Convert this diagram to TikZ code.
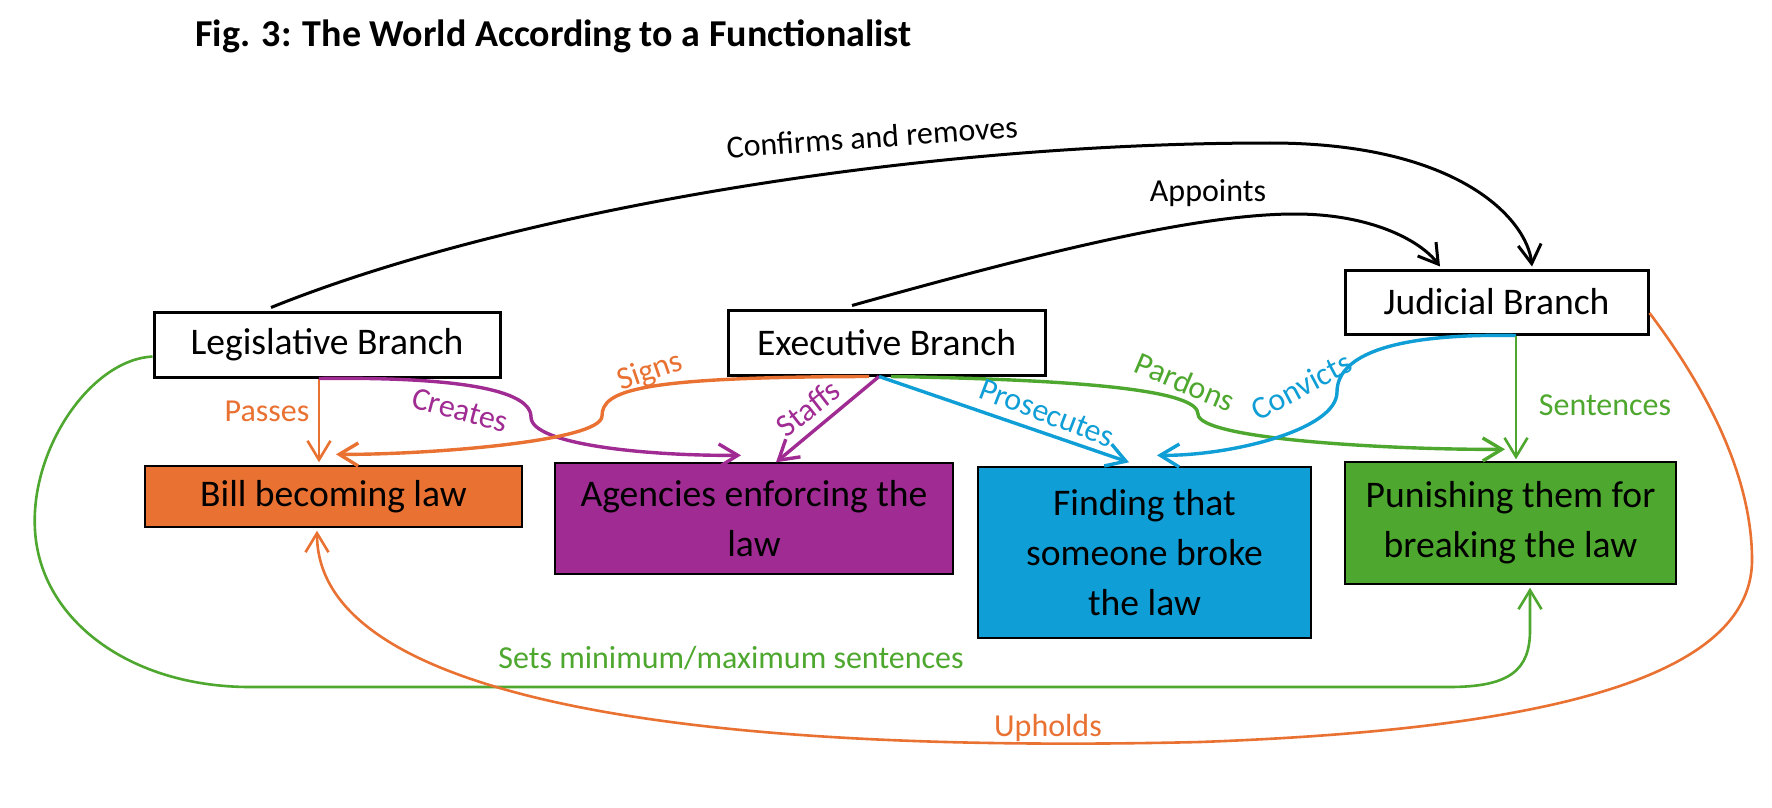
\documentclass[tikz,border=0pt]{standalone}
\usepackage{fontspec}
\setmainfont{Carlito}
\usetikzlibrary{arrows.meta,calc}
\definecolor{corange}{HTML}{E97132}
\definecolor{cpurple}{HTML}{A02B93}
\definecolor{cblue}{HTML}{0F9ED5}
\definecolor{cgreen}{HTML}{4EA72E}
\tikzset{
  branch/.style={draw=black, line width=1.5pt, fill=white, inner sep=0pt, font=\fontsize{18.8}{25}\selectfont},
  funcbox/.style={draw=black, line width=0.7pt, inner sep=0pt, align=center, font=\fontsize{18.8}{25}\selectfont},
  conn/.style={line width=1.7pt, -{Straight Barb[length=9.5pt,width=11.5pt]}},
  thinconn/.style={line width=1.3pt, -{Straight Barb[length=9.5pt,width=11.5pt]}},
  lbl/.style={inner sep=0pt, font=\fontsize{16}{19}\selectfont},
}
\begin{document}
\begin{tikzpicture}[x=0.5pt,y=-0.5pt]
\fill[white] (0,0) rectangle (1772,808);
\useasboundingbox (0,0) rectangle (1772,808);

\node[anchor=base west, inner sep=0pt, font=\bfseries\fontsize{19}{23}\selectfont] (title) at (195,47) {Fig. 3: The World According to a Functionalist};

% branches
\node[branch, minimum width=173pt, minimum height=32.5pt] (leg) at (327,344.5) {Legislative Branch};
\node[branch, minimum width=158.5pt, minimum height=32.5pt] (exe) at (886.5,342.5) {Executive Branch};
\node[branch, minimum width=151.5pt, minimum height=32pt] (jud) at (1496.5,302) {Judicial Branch};

% functions
\node[funcbox, fill=corange, minimum width=188.5pt, minimum height=30.5pt] (bill) at (333.5,496.5) {Bill becoming law};
\node[funcbox, fill=cpurple, minimum width=199pt, minimum height=55.5pt] (agen) at (754,518.5) {Agencies enforcing the\\law};
\node[funcbox, fill=cblue, minimum width=166.5pt, minimum height=85.5pt] (find) at (1144.5,552.5) {Finding that\\someone broke\\the law};
\node[funcbox, fill=cgreen, minimum width=165.5pt, minimum height=61pt] (pun) at (1510.5,523) {Punishing them for\\breaking the law};

% black connectors
\draw[conn, line width=1.5pt] ([xshift=-28pt,yshift=1.5pt]leg.north) .. controls (500,215) and (900,143) .. (1270,143) .. controls (1460,143) and (1527,220) .. ([xshift=17.75pt,yshift=1pt]jud.north);
\draw[conn, line width=1.5pt] ([xshift=-17.25pt,yshift=1.5pt]exe.north) .. controls (1050,250) and (1200,214) .. (1295,214) .. controls (1370,214) and (1420,240) .. ([xshift=-28.25pt,yshift=1pt]jud.north);

% legislative
\draw[thinconn, corange] ([xshift=-4pt]leg.south) -- ([xshift=-4pt,yshift=1.5pt]leg.south |- bill.north);
\draw[conn, cpurple] ([xshift=-4pt]leg.south) .. controls (430,377) and (531,385) .. (531,417) .. controls (531,445) and (650,456) .. ([xshift=-6.5pt,yshift=3.5pt]agen.north);
\draw[thinconn, cgreen] ([yshift=-6pt]leg.west) .. controls (90,360) and (30,450) .. (35,530) .. controls (40,620) and (130,687) .. (250,687) -- (1449,687) .. controls (1510,687) and (1530,670) .. (1530,630) -- ([xshift=9.75pt,yshift=-1.5pt]pun.south);

% executive
\draw[conn, corange] ([xshift=-8.75pt]exe.south) .. controls (640,377) and (602,390) .. (602,416) .. controls (602,442) and (420,455) .. ([xshift=1.25pt,yshift=5.5pt]bill.north);
\draw[conn, cpurple] ([xshift=-3.75pt]exe.south) -- ([xshift=11pt]agen.north);
\draw[conn, cblue] ([xshift=-3.75pt]exe.south) -- ([xshift=-7.75pt,yshift=2pt]find.north);
\draw[conn, cgreen] ([xshift=2.25pt]exe.south) .. controls (1100,380) and (1198,392) .. (1198,414) .. controls (1198,440) and (1400,450) .. ([xshift=-2.75pt,yshift=6pt]pun.north);

% judicial
\draw[conn, cblue] ([xshift=9.75pt]jud.south) .. controls (1380,333) and (1337,360) .. (1337,392) .. controls (1337,430) and (1230,456) .. ([xshift=6.25pt,yshift=5.5pt]find.north);
\draw[thinconn, cgreen] ([xshift=9.75pt]jud.south) -- ([xshift=9.75pt,yshift=1pt]jud.south |- pun.north);
\draw[thinconn, corange] ([yshift=-5.5pt]jud.east) .. controls (1700,380) and (1752,470) .. (1752,560) .. controls (1752,690) and (1500,731) .. (1200,742) .. controls (650,755) and (317,690) .. ([xshift=-8.25pt,yshift=-1.5pt]bill.south);

% labels
\node[lbl, rotate=4] (lconf) at (872,137) {Confirms and removes};
\node[lbl] (lapp) at (1208,193) {Appoints};
\node[lbl, text=corange, rotate=19] (lsigns) at (650,372) {Signs};
\node[lbl, text=corange] (lpass) at (267,411) {Passes};
\node[lbl, text=cpurple, rotate=-15] (lcre) at (460,410) {Creates};
\node[lbl, text=cpurple, rotate=38] (lstaff) at (808,408) {Staffs};
\node[lbl, text=cblue, rotate=-21] (lpros) at (1047,413) {Prosecutes};
\node[lbl, text=cgreen, rotate=-23] (lpard) at (1185,382) {Pardons};
\node[lbl, text=cblue, rotate=28] (lconv) at (1301,386) {Convicts};
\node[lbl, text=cgreen] (lsent) at (1605,405) {Sentences};
\node[lbl, text=cgreen] (lsets) at (731,658) {Sets minimum/maximum sentences};
\node[lbl, text=corange] (luph) at (1048,728) {Upholds};
\end{tikzpicture}
\end{document}
